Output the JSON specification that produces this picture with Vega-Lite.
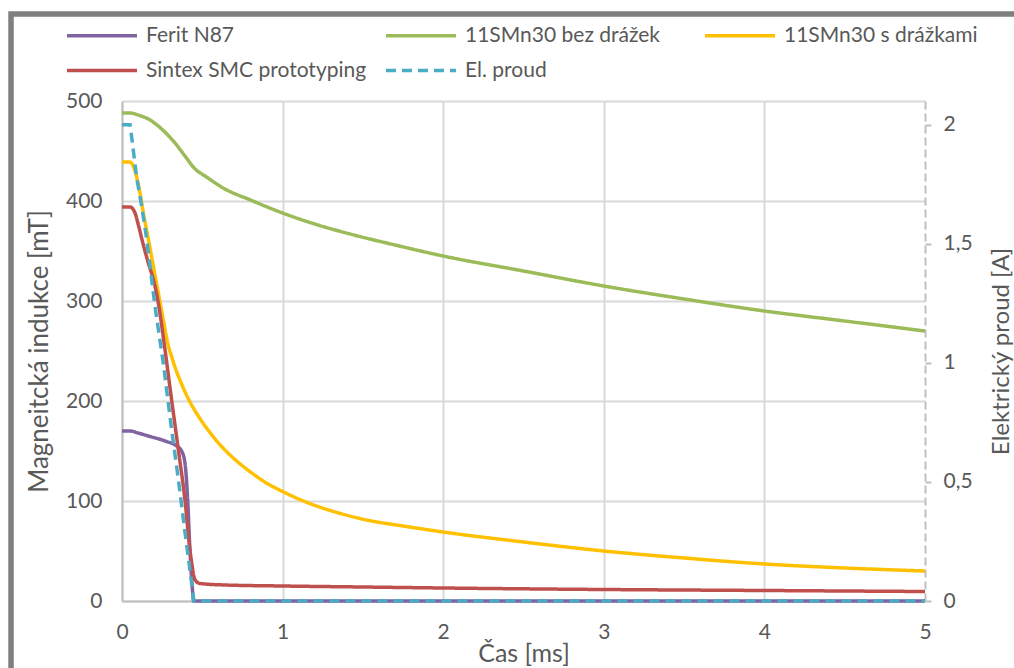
{
  "$schema": "https://vega.github.io/schema/vega-lite/v6.json",
  "width": 803,
  "height": 500,
  "autosize": {"type": "none"},
  "padding": {"left": 122, "top": 101, "right": 89, "bottom": 67},
  "background": "white",
  "config": {
    "font": "Lato",
    "view": {"stroke": null},
    "axis": {
      "labelFont": "Lato", "titleFont": "Lato",
      "labelColor": "#595959", "titleColor": "#595959",
      "labelFontSize": 21, "titleFontSize": 26, "titleFontWeight": "normal",
      "gridColor": "#D9D9D9", "gridWidth": 2,
      "domainColor": "#BFBFBF", "domainWidth": 2,
      "tickColor": "#BFBFBF", "tickWidth": 2,
      "labelFlush": false
    }
  },
  "data": {"values": [
    {"s": "Ferit N87", "t": 0, "v": 170},
    {"s": "Ferit N87", "t": 0.05, "v": 170},
    {"s": "Ferit N87", "t": 0.1, "v": 168},
    {"s": "Ferit N87", "t": 0.164, "v": 165},
    {"s": "Ferit N87", "t": 0.268, "v": 160},
    {"s": "Ferit N87", "t": 0.34, "v": 155},
    {"s": "Ferit N87", "t": 0.371, "v": 150},
    {"s": "Ferit N87", "t": 0.392, "v": 138},
    {"s": "Ferit N87", "t": 0.409, "v": 101},
    {"s": "Ferit N87", "t": 0.423, "v": 51},
    {"s": "Ferit N87", "t": 0.437, "v": 15},
    {"s": "Ferit N87", "t": 0.446, "v": 0},
    {"s": "Ferit N87", "t": 1, "v": 0},
    {"s": "Ferit N87", "t": 2, "v": 0},
    {"s": "Ferit N87", "t": 3, "v": 0},
    {"s": "Ferit N87", "t": 4, "v": 0},
    {"s": "Ferit N87", "t": 5, "v": 0},
    {"s": "11SMn30 bez drážek", "t": 0, "v": 488},
    {"s": "11SMn30 bez drážek", "t": 0.05, "v": 488},
    {"s": "11SMn30 bez drážek", "t": 0.1, "v": 486},
    {"s": "11SMn30 bez drážek", "t": 0.164, "v": 482},
    {"s": "11SMn30 bez drážek", "t": 0.247, "v": 472},
    {"s": "11SMn30 bez drážek", "t": 0.33, "v": 458},
    {"s": "11SMn30 bez drážek", "t": 0.392, "v": 445},
    {"s": "11SMn30 bez drážek", "t": 0.455, "v": 432},
    {"s": "11SMn30 bez drážek", "t": 0.517, "v": 425},
    {"s": "11SMn30 bez drážek", "t": 0.641, "v": 412},
    {"s": "11SMn30 bez drážek", "t": 0.8, "v": 401},
    {"s": "11SMn30 bez drážek", "t": 1.0, "v": 388},
    {"s": "11SMn30 bez drážek", "t": 1.2, "v": 377},
    {"s": "11SMn30 bez drážek", "t": 1.42, "v": 367},
    {"s": "11SMn30 bez drážek", "t": 1.7, "v": 356},
    {"s": "11SMn30 bez drážek", "t": 2.0, "v": 345},
    {"s": "11SMn30 bez drážek", "t": 2.5, "v": 330},
    {"s": "11SMn30 bez drážek", "t": 3.0, "v": 315},
    {"s": "11SMn30 bez drážek", "t": 3.5, "v": 302},
    {"s": "11SMn30 bez drážek", "t": 4.0, "v": 290},
    {"s": "11SMn30 bez drážek", "t": 4.5, "v": 280},
    {"s": "11SMn30 bez drážek", "t": 5.0, "v": 270},
    {"s": "11SMn30 s drážkami", "t": 0, "v": 439},
    {"s": "11SMn30 s drážkami", "t": 0.05, "v": 439},
    {"s": "11SMn30 s drážkami", "t": 0.081, "v": 430},
    {"s": "11SMn30 s drážkami", "t": 0.112, "v": 408},
    {"s": "11SMn30 s drážkami", "t": 0.133, "v": 388},
    {"s": "11SMn30 s drážkami", "t": 0.164, "v": 362},
    {"s": "11SMn30 s drážkami", "t": 0.195, "v": 335},
    {"s": "11SMn30 s drážkami", "t": 0.226, "v": 308},
    {"s": "11SMn30 s drážkami", "t": 0.257, "v": 281},
    {"s": "11SMn30 s drážkami", "t": 0.289, "v": 255},
    {"s": "11SMn30 s drážkami", "t": 0.31, "v": 244},
    {"s": "11SMn30 s drážkami", "t": 0.33, "v": 234},
    {"s": "11SMn30 s drážkami", "t": 0.371, "v": 217},
    {"s": "11SMn30 s drážkami", "t": 0.42, "v": 200},
    {"s": "11SMn30 s drážkami", "t": 0.475, "v": 185},
    {"s": "11SMn30 s drážkami", "t": 0.55, "v": 168},
    {"s": "11SMn30 s drážkami", "t": 0.641, "v": 151},
    {"s": "11SMn30 s drážkami", "t": 0.7, "v": 142},
    {"s": "11SMn30 s drážkami", "t": 0.8, "v": 129},
    {"s": "11SMn30 s drážkami", "t": 0.9, "v": 118},
    {"s": "11SMn30 s drážkami", "t": 1.0, "v": 109.5},
    {"s": "11SMn30 s drážkami", "t": 1.1, "v": 102},
    {"s": "11SMn30 s drážkami", "t": 1.212, "v": 95},
    {"s": "11SMn30 s drážkami", "t": 1.35, "v": 88},
    {"s": "11SMn30 s drážkami", "t": 1.524, "v": 81},
    {"s": "11SMn30 s drážkami", "t": 1.75, "v": 75},
    {"s": "11SMn30 s drážkami", "t": 2.0, "v": 69},
    {"s": "11SMn30 s drážkami", "t": 2.5, "v": 59},
    {"s": "11SMn30 s drážkami", "t": 3.0, "v": 50},
    {"s": "11SMn30 s drážkami", "t": 3.5, "v": 43},
    {"s": "11SMn30 s drážkami", "t": 4.0, "v": 37},
    {"s": "11SMn30 s drážkami", "t": 4.5, "v": 33},
    {"s": "11SMn30 s drážkami", "t": 5.0, "v": 30},
    {"s": "Sintex SMC prototyping", "t": 0, "v": 394},
    {"s": "Sintex SMC prototyping", "t": 0.05, "v": 394},
    {"s": "Sintex SMC prototyping", "t": 0.081, "v": 388},
    {"s": "Sintex SMC prototyping", "t": 0.102, "v": 376},
    {"s": "Sintex SMC prototyping", "t": 0.133, "v": 356},
    {"s": "Sintex SMC prototyping", "t": 0.164, "v": 338},
    {"s": "Sintex SMC prototyping", "t": 0.201, "v": 318},
    {"s": "Sintex SMC prototyping", "t": 0.226, "v": 298},
    {"s": "Sintex SMC prototyping", "t": 0.268, "v": 251},
    {"s": "Sintex SMC prototyping", "t": 0.309, "v": 201},
    {"s": "Sintex SMC prototyping", "t": 0.351, "v": 151},
    {"s": "Sintex SMC prototyping", "t": 0.392, "v": 101},
    {"s": "Sintex SMC prototyping", "t": 0.423, "v": 51},
    {"s": "Sintex SMC prototyping", "t": 0.437, "v": 35},
    {"s": "Sintex SMC prototyping", "t": 0.447, "v": 25},
    {"s": "Sintex SMC prototyping", "t": 0.46, "v": 20},
    {"s": "Sintex SMC prototyping", "t": 0.486, "v": 17.5},
    {"s": "Sintex SMC prototyping", "t": 0.641, "v": 16},
    {"s": "Sintex SMC prototyping", "t": 1.0, "v": 15},
    {"s": "Sintex SMC prototyping", "t": 1.5, "v": 14},
    {"s": "Sintex SMC prototyping", "t": 2.0, "v": 13},
    {"s": "Sintex SMC prototyping", "t": 3.0, "v": 11.5},
    {"s": "Sintex SMC prototyping", "t": 4.0, "v": 10.5},
    {"s": "Sintex SMC prototyping", "t": 5.0, "v": 9.5},
    {"s": "El. proud", "t": 0, "v": 2.0},
    {"s": "El. proud", "t": 0.05, "v": 2.0},
    {"s": "El. proud", "t": 0.06, "v": 1.95},
    {"s": "El. proud", "t": 0.091, "v": 1.78},
    {"s": "El. proud", "t": 0.122, "v": 1.66},
    {"s": "El. proud", "t": 0.154, "v": 1.52},
    {"s": "El. proud", "t": 0.205, "v": 1.24},
    {"s": "El. proud", "t": 0.257, "v": 1.0},
    {"s": "El. proud", "t": 0.309, "v": 0.72},
    {"s": "El. proud", "t": 0.351, "v": 0.51},
    {"s": "El. proud", "t": 0.392, "v": 0.29},
    {"s": "El. proud", "t": 0.423, "v": 0.13},
    {"s": "El. proud", "t": 0.448, "v": 0},
    {"s": "El. proud", "t": 1, "v": 0},
    {"s": "El. proud", "t": 5, "v": 0}
  ]},
  "layer": [
    {
      "transform": [{"filter": "datum.s !== 'El. proud'"}],
      "mark": {"type": "line", "strokeWidth": 3.5, "interpolate": "monotone"},
      "encoding": {
        "x": {"field": "t", "type": "quantitative", "scale": {"domain": [0, 5], "nice": false},
              "axis": {"title": "Čas [ms]", "titleFontSize": 25, "values": [0, 1, 2, 3, 4, 5], "format": "d", "ticks": false, "labelFlush": false, "labelPadding": 20, "titlePadding": -1,
                       "gridColor": {"condition": {"test": "datum.value === 5", "value": "transparent"}, "value": "#D9D9D9"}}},
        "y": {"field": "v", "type": "quantitative", "scale": {"domain": [0, 500], "nice": false},
              "axis": {"title": "Magneitcká indukce [mT]", "values": [0, 100, 200, 300, 400, 500], "ticks": false, "labelFlush": false, "labelPadding": 20, "titlePadding": 13}},
        "color": {"field": "s", "type": "nominal",
                  "scale": {"domain": ["Ferit N87", "11SMn30 bez drážek", "11SMn30 s drážkami", "Sintex SMC prototyping", "El. proud"],
                            "range": ["#8064A2", "#9BBB59", "#FFC000", "#C0504D", "#4BACC6"]},
                  "legend": {"title": null, "orient": "none", "legendX": -57, "legendY": -85, "direction": "horizontal", "columns": 3, "gridAlign": "all", "columnPadding": 12, "rowPadding": 5,
                             "symbolType": "M-1,0H3", "symbolSize": 1225, "symbolStrokeWidth": 3.5, "symbolFillColor": "transparent", "labelFontSize": 21, "labelColor": "#595959", "labelFont": "Lato", "labelOffset": 42, "labelLimit": 400}},
        "strokeDash": {"field": "s", "type": "nominal",
                  "scale": {"domain": ["Ferit N87", "11SMn30 bez drážek", "11SMn30 s drážkami", "Sintex SMC prototyping", "El. proud"],
                            "range": [[1, 0], [1, 0], [1, 0], [1, 0], [10, 6]]},
                  "legend": {"title": null, "orient": "none", "legendX": -57, "legendY": -85, "direction": "horizontal", "columns": 3, "gridAlign": "all", "columnPadding": 12, "rowPadding": 5,
                             "symbolType": "M-1,0H3", "symbolSize": 1225, "symbolStrokeWidth": 3.5, "symbolFillColor": "transparent", "labelFontSize": 21, "labelColor": "#595959", "labelFont": "Lato", "labelOffset": 42, "labelLimit": 400}}
      }
    },
    {
      "transform": [{"filter": "datum.s === 'El. proud'"}],
      "mark": {"type": "line", "strokeWidth": 3.5, "interpolate": "linear"},
      "encoding": {
        "x": {"field": "t", "type": "quantitative"},
        "y": {"field": "v", "type": "quantitative", "scale": {"domain": [0, 2.1], "nice": false},
              "axis": {"orient": "right", "title": "Elektrický proud [A]", "titleFontSize": 24, "values": [0, 0.5, 1, 1.5, 2], "grid": false, "labelFlush": false,
                       "domainDash": [8, 4], "tickSize": 6, "labelPadding": 12, "titlePadding": 17, "titleAngle": 270, "titleBaseline": "top",
                       "labelExpr": "replace(format(datum.value, '.1~f'), '.', ',')"}},
        "color": {"field": "s", "type": "nominal"},
        "strokeDash": {"field": "s", "type": "nominal"}
      }
    },
    {
      "data": {"values": [{"frame": 1}]},
      "mark": {"type": "rect", "fill": "transparent", "stroke": "#7F7F7F", "strokeWidth": 5.5},
      "encoding": {
        "x": {"datum": -0.691, "type": "quantitative"},
        "x2": {"datum": 7},
        "y": {"datum": 587, "type": "quantitative", "scale": {"domain": [0, 500], "nice": false}, "axis": null},
        "y2": {"datum": -200}
      }
    }
  ],
  "resolve": {"scale": {"y": "independent"}}
}
